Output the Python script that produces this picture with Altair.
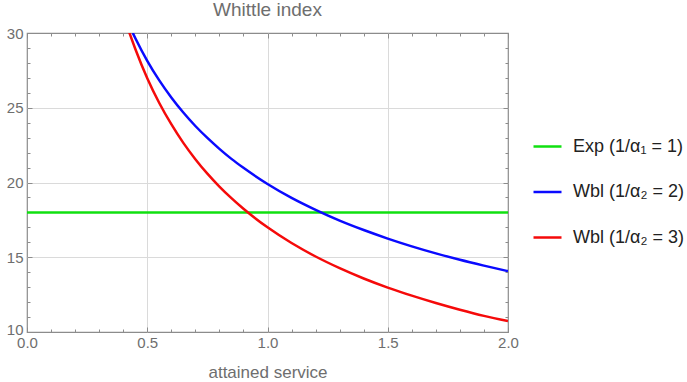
import altair as alt
import pandas as pd

# ---------------- data ----------------
chart_title = "Whittle index"
x_title = "attained service"
series_names = ["Exp (1/α₁ = 1)", "Wbl (1/α₂ = 2)", "Wbl (1/α₂ = 3)"]
series_colors = ["#10e010", "#0a0aff", "#f50a0a"]

exp_x = [0.0, 2.0]
exp_y = [18.0, 18.0]

wbl2_x = [0.44, 0.45, 0.5, 0.55, 0.6, 0.65, 0.7, 0.75, 0.8, 0.85, 0.9, 1.0,
          1.1, 1.2, 1.3, 1.4, 1.5, 1.6, 1.7, 1.8, 1.9, 2.0]
wbl2_y = [30.0, 29.67, 28.14, 26.83, 25.69, 24.68, 23.78, 22.98, 22.25, 21.58, 20.98, 19.9,
          18.97, 18.17, 17.45, 16.82, 16.25, 15.73, 15.26, 14.83, 14.44, 14.07]

wbl3_x = [0.425, 0.45, 0.5, 0.55, 0.6, 0.65, 0.7, 0.75, 0.8, 0.85, 0.9, 1.0,
          1.1, 1.2, 1.3, 1.4, 1.5, 1.6, 1.7, 1.8, 1.9, 2.0]
wbl3_y = [30.05, 28.95, 26.98, 25.32, 23.9, 22.65, 21.56, 20.59, 19.73, 18.95, 18.24, 17.0,
          15.95, 15.05, 14.27, 13.58, 12.97, 12.43, 11.94, 11.49, 11.08, 10.73]

x_major = [0.0, 0.5, 1.0, 1.5, 2.0]
x_minor = [0.1, 0.2, 0.3, 0.4, 0.6, 0.7, 0.8, 0.9, 1.1, 1.2, 1.3, 1.4,
           1.6, 1.7, 1.8, 1.9]
x_grid = [0.5, 1.0, 1.5]
y_major = [10, 15, 20, 25, 30]
y_minor = [11, 12, 13, 14, 16, 17, 18, 19, 21, 22, 23, 24, 26, 27, 28, 29]
y_grid = [15, 20, 25]

# ---------------- table ----------------
rows = []
for name, xs_, ys_ in zip(series_names, [exp_x, wbl2_x, wbl3_x], [exp_y, wbl2_y, wbl3_y]):
    for a, b in zip(xs_, ys_):
        rows.append({"series": name, "x": a, "y": b})
df = pd.DataFrame(rows)
df_axis = pd.DataFrame({"x": exp_x, "y": exp_y})

FONT = "Liberation Sans"
GRAY_TXT = "#6e6e6e"
GRAY_LINE = "#8c8c8c"

xs = alt.Scale(domain=[0, 2], nice=False, zero=False)
ys = alt.Scale(domain=[10, 30], nice=False, zero=False)

MAJ = 5
MIN = 3


def axis_layer(xaxis, yaxis):
    return alt.Chart(df_axis).mark_line(strokeOpacity=0).encode(
        x=alt.X("x:Q", scale=xs, axis=xaxis),
        y=alt.Y("y:Q", scale=ys, axis=yaxis),
    )


common = dict(domain=False, grid=False, tickColor=GRAY_LINE, tickWidth=1)

grid_layer = axis_layer(
    alt.Axis(orient="bottom", values=x_grid, grid=True, ticks=False, labels=False,
             domain=False, title=None, gridColor="#dadada", gridWidth=1),
    alt.Axis(orient="left", values=y_grid, grid=True, ticks=False, labels=False,
             domain=False, title=None, gridColor="#dadada", gridWidth=1),
)

major_bl = axis_layer(
    alt.Axis(orient="bottom", values=x_major, format=".1f", tickSize=MAJ, offset=-MAJ,
             labelPadding=3, labelFont=FONT, labelFontSize=15, labelColor=GRAY_TXT,
             labelFlush=False, labelOverlap=False,
             title=x_title, titleFont=FONT, titleFontSize=17, titleFontWeight="normal",
             titleColor=GRAY_TXT, titlePadding=14, **common),
    alt.Axis(orient="left", values=y_major, format="d", tickSize=MAJ, offset=-MAJ,
             labelPadding=4, labelFont=FONT, labelFontSize=15, labelColor=GRAY_TXT,
             labelFlush=False, labelOverlap=False, title=None,
             labelOffset={"condition": {"test": "datum.value == 10", "value": -3}, "value": 0},
             **common),
)

minor_bl = axis_layer(
    alt.Axis(orient="bottom", values=x_minor, tickSize=MIN, offset=-MIN, labels=False,
             title=None, **common),
    alt.Axis(orient="left", values=y_minor, tickSize=MIN, offset=-MIN, labels=False,
             title=None, **common),
)

major_tr = axis_layer(
    alt.Axis(orient="top", values=x_major, tickSize=MAJ, offset=-MAJ, labels=False,
             title=None, **common),
    alt.Axis(orient="right", values=y_major, tickSize=MAJ, offset=-MAJ, labels=False,
             title=None, **common),
)

minor_tr = axis_layer(
    alt.Axis(orient="top", values=x_minor, tickSize=MIN, offset=-MIN, labels=False,
             title=None, **common),
    alt.Axis(orient="right", values=y_minor, tickSize=MIN, offset=-MIN, labels=False,
             title=None, **common),
)

lines = alt.Chart(df).mark_line(strokeWidth=2.5, interpolate="monotone", clip=True).encode(
    x=alt.X("x:Q", scale=xs, axis=None),
    y=alt.Y("y:Q", scale=ys, axis=None),
    color=alt.Color(
        "series:N",
        scale=alt.Scale(domain=series_names, range=series_colors),
        legend=alt.Legend(
            title=None, orient="none", legendX=505, legendY=98, padding=0,
            symbolType="stroke", symbolSize=784, symbolStrokeWidth=2.5,
            labelFont=FONT, labelFontSize=18, labelColor="#222222",
            labelOffset=10, rowPadding=20.5, labelLimit=0,
        ),
    ),
    detail="series:N",
)

chart = (
    alt.layer(grid_layer, major_bl, minor_bl, major_tr, minor_tr, lines)
    .resolve_axis(x="independent", y="independent")
    .properties(
        width=481,
        height=299,
        title=alt.TitleParams(chart_title, font=FONT, fontSize=19, fontWeight="normal",
                              color=GRAY_TXT, anchor="middle", offset=6),
        autosize=alt.AutoSizeParams(type="none"),
        padding={"left": 27, "top": 33, "right": 179, "bottom": 50},
        background="white",
    )
    .configure_view(stroke=GRAY_LINE, strokeWidth=1.2)
)

chart.save("out.html", embed_options={"renderer": "svg", "actions": False})
